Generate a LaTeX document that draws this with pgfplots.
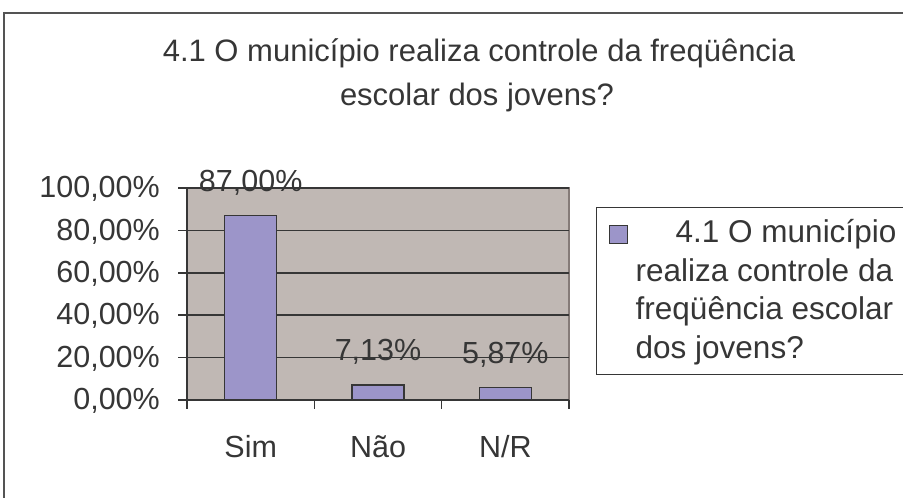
\documentclass[border=0pt]{standalone}
\usepackage{fontspec}
\setmainfont{Liberation Sans}
\usepackage{pgfplots}
\pgfplotsset{compat=1.18}
\definecolor{barfill}{HTML}{9C95C9}
\definecolor{plotbg}{HTML}{C0B8B4}
\definecolor{txt}{HTML}{363636}
\definecolor{pborder}{HTML}{857B78}
\begin{document}
\fontsize{30bp}{36bp}\selectfont
\begin{tikzpicture}[x=1bp,y=1bp]
\draw[line width=2bp, color=txt!85] (4,-20) -- (4,485) -- (930,485);
\node[anchor=base, text=txt, font=\fontsize{31bp}{36bp}\selectfont] at (479,436) {4.1 O município realiza controle da freqüência};
\node[anchor=base, text=txt, font=\fontsize{31bp}{36bp}\selectfont] at (477,392) {escolar dos jovens?};
\begin{axis}[
  at={(187bp,98bp)}, anchor=south west,
  scale only axis, width=382bp, height=212bp,
  xmin=-0.5, xmax=2.5, ymin=0, ymax=100,
  clip=false,
  axis background/.style={fill=plotbg, draw=pborder, line width=1.5bp},
  axis x line*=bottom, axis y line*=left,
  axis line style={txt, line width=1.5bp},
  ytick={0,20,40,60,80,100},
  yticklabels={{0,00\%},{20,00\%},{40,00\%},{60,00\%},{80,00\%},{100,00\%}},
  ymajorgrids=true,
  grid style={txt, line width=1.5bp},
  xtick={-0.5,0.5,1.5,2.5},
  xticklabels={},
  extra x ticks={0,1,2},
  extra x tick labels={Sim,Não,N/R},
  extra x tick style={major tick length=0pt, grid=none},
  tick align=outside,
  major tick length=9bp,
  tick style={txt, line width=1.5bp},
  every tick label/.append style={font=\fontsize{30.5bp}{36bp}\selectfont, text=txt},
  yticklabel style={anchor=east, inner sep=0pt, xshift=-18bp, yshift=-1bp},
  xticklabel style={anchor=base, inner sep=0pt, yshift=-58bp},
  ybar, bar width=52bp,
  nodes near coords,
  point meta=explicit symbolic,
  every node near coord/.append style={anchor=base, yshift=24bp, inner sep=0pt, text=txt, font=\fontsize{30.5bp}{36bp}\selectfont},
  legend style={at={(1.0707,0.910)}, anchor=north west, draw=txt, line width=1bp, fill=white,
    inner xsep=12bp, inner ysep=10bp, font=\fontsize{31.5bp}{38.5bp}\selectfont, text=txt,
    cells={anchor=base west, align=left, inner sep=0pt},
    /tikz/every odd column/.style={column sep=6bp}},
  legend image code/.code={\draw[#1, line width=1.2bp] (0bp,115bp) rectangle (18bp,133bp);},
]
\addplot[fill=barfill, draw=txt, line width=1.5bp] coordinates {(0,87.00) [87,00\%] (1,7.13) [7,13\%] (2,5.87) [5,87\%]};
\addlegendentry{\hspace*{40bp}4.1 O município\hspace*{30bp}\\realiza controle da\\freqüência escolar\\dos jovens?}
\end{axis}
\pgfresetboundingbox
\useasboundingbox (0,0) rectangle (903,498);
\end{tikzpicture}
\end{document}
